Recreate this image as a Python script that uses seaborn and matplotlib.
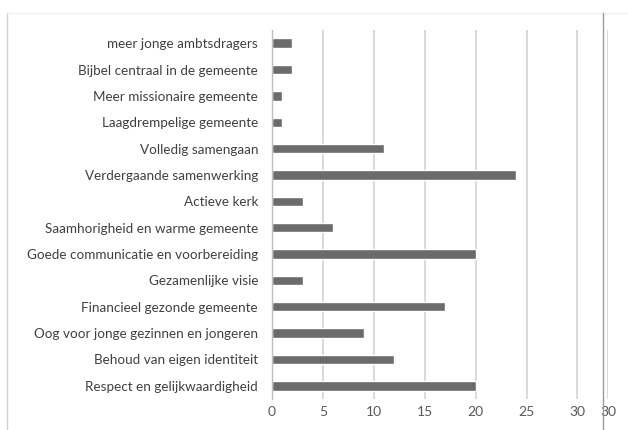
import pandas as pd
import matplotlib.pyplot as plt
import seaborn as sns
from matplotlib.lines import Line2D

categories = [
    'meer jonge ambtsdragers',
    'Bijbel centraal in de gemeente',
    'Meer missionaire gemeente',
    'Laagdrempelige gemeente',
    'Volledig samengaan',
    'Verdergaande samenwerking',
    'Actieve kerk',
    'Saamhorigheid en warme gemeente',
    'Goede communicatie en voorbereiding',
    'Gezamenlijke visie',
    'Financieel gezonde gemeente',
    'Oog voor jonge gezinnen en jongeren',
    'Behoud van eigen identiteit',
    'Respect en gelijkwaardigheid',
]
values = [2, 2, 1, 1, 11, 24, 3, 6, 20, 3, 17, 9, 12, 20]
tick_pos = [0, 5, 10, 15, 20, 25, 30, 33]
tick_labels = ['0', '5', '10', '15', '20', '25', '30', '30']

df = pd.DataFrame({'categorie': categories, 'aantal': values})

sns.set_style('white')
plt.rcParams['font.family'] = ['Lato', 'DejaVu Sans']

fig = plt.figure(figsize=(6.28, 4.30), dpi=100)
ax = fig.add_axes([272 / 628, 1 - 399 / 430, 336 / 628, 369 / 430])

ax.set_xlim(0, 33)
ax.set_xticks(tick_pos)
ax.set_xticklabels(tick_labels)
ax.grid(axis='x', color='#d9d9d9', linewidth=1.4)
ax.set_axisbelow(True)

sns.barplot(data=df, x='aantal', y='categorie', color='#6b6b6b', saturation=1,
            width=0.36, ax=ax, orient='h')
ax.set(xlabel='', ylabel='')

sns.despine(ax=ax, top=True, right=True, bottom=True, left=False)
ax.spines['left'].set_color('#bfbfbf')
ax.spines['left'].set_linewidth(1.0)
ax.tick_params(axis='x', length=0, pad=5, labelsize=10, labelcolor='#595959')
ax.tick_params(axis='y', length=0, pad=10, labelsize=9.7, labelcolor='#404040')

# frame of the original screenshot
fig.add_artist(Line2D([7 / 628, 7 / 628], [0, 1 - 13 / 430], color='#d0d0d0', lw=1))
fig.add_artist(Line2D([7 / 628, 1], [1 - 13 / 430, 1 - 13 / 430], color='#f0f0f0', lw=1))
fig.add_artist(Line2D([603 / 628, 603 / 628], [0, 1 - 13 / 430], color='#9a9a9a', lw=1))

plt.savefig('out.png', dpi=100)
